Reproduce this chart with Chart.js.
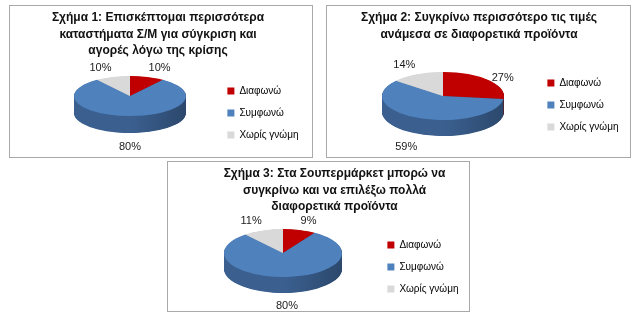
<!DOCTYPE html>
<html>
<head>
<meta charset="utf-8">
<script src="https://cdn.jsdelivr.net/npm/chart.js@4.4.0/dist/chart.umd.min.js"></script>
<style>
  body { margin: 0; background: #fff; width: 641px; height: 315px; position: relative; overflow: hidden; }
  .box { position: absolute; border: 1px solid #a9a9a9; box-sizing: border-box; background: #fff; overflow: hidden; }
  .box canvas { display: block; }
</style>
</head>
<body>
<div class="box" style="left:9px;top:5px;width:304px;height:153px"><canvas id="fig1" width="302" height="151"></canvas></div>
<div class="box" style="left:326px;top:5px;width:305px;height:153px"><canvas id="fig2" width="303" height="151"></canvas></div>
<div class="box" style="left:167px;top:161px;width:303px;height:151px"><canvas id="fig3" width="301" height="149"></canvas></div>
<script>
// data
const categories = ['Διαφωνώ', 'Συμφωνώ', 'Χωρίς γνώμη']
const values_fig1 = [10, 80, 10]
const values_fig2 = [27, 59, 14]
const values_fig3 = [9, 80, 11]

const title_fig1 = ['Σχήμα 1: Επισκέπτομαι περισσότερα', 'καταστήματα Σ/Μ για σύγκριση και', 'αγορές λόγω της κρίσης']
const title_fig2 = ['Σχήμα 2: Συγκρίνω περισσότερο τις τιμές', 'ανάμεσα σε διαφορετικά προϊόντα']
const title_fig3 = ['Σχήμα 3: Στα Σουπερμάρκετ μπορώ να', 'συγκρίνω και να επιλέξω πολλά', 'διαφορετικά προϊόντα']

const top_colors = ['#c00000', '#4f81bd', '#d9d9d9']
const side_colors = ['#8e0a0a', '#3b6090', '#a9a9a9']
const font_family = "'Liberation Sans', Arial, sans-serif"


// fake 3d pie: squash the library's arcs into an ellipse and stack a darker wall under it
const pie3d = {
  id: 'pie3d',
  beforeDatasetsDraw(chart, args, opts) {
    const ctx = chart.ctx
    const arcs = chart.getDatasetMeta(0).data
    const ox = arcs[0].x, oy = arcs[0].y
    const r = arcs[0].outerRadius
    const k = opts.ry / r
    ctx.save()
    ctx.translate(opts.cx, opts.cy)
    ctx.scale(1, k)
    ctx.translate(-ox, -oy)
    for (let d = opts.depth; d > 0; d -= 0.5) {
      arcs.forEach((arc, i) => {
        let grad = ctx.createLinearGradient(ox - r, 0, ox + r, 0)
        grad.addColorStop(0, side_colors[i])
        grad.addColorStop(0.5, side_colors[i])
        grad.addColorStop(1, shade(side_colors[i], 0.75))
        ctx.fillStyle = grad
        ctx.beginPath()
        ctx.moveTo(ox, oy + d / k)
        ctx.arc(ox, oy + d / k, arc.outerRadius, arc.startAngle, arc.endAngle)
        ctx.closePath()
        ctx.fill()
      })
    }
  },
  afterDatasetsDraw(chart, args, opts) {
    const ctx = chart.ctx
    ctx.restore()
    // percent labels just outside the ellipse
    const arcs = chart.getDatasetMeta(0).data
    const values = chart.data.datasets[0].data
    ctx.save()
    ctx.font = '11px ' + font_family
    ctx.fillStyle = '#1a1a1a'
    arcs.forEach((arc, i) => {
      const a = (arc.startAngle + arc.endAngle) / 2
      const c = Math.cos(a), s = Math.sin(a)
      const x = opts.cx + (arc.outerRadius + 4) * c
      const y = opts.cy + (opts.ry + (s > 0 ? 8 : 4)) * s + (s > 0 ? opts.depth : 0)
      ctx.textAlign = c > 0.1 ? 'left' : (c < -0.1 ? 'right' : 'center')
      ctx.textBaseline = s < -0.7 ? 'bottom' : (s > 0.7 ? 'top' : 'middle')
      ctx.fillText(values[i] + '%', x, y)
    })
    ctx.restore()
  }
}

function shade(hex, f) {
  let n = parseInt(hex.slice(1), 16)
  let r = Math.round((n >> 16) * f), g = Math.round(((n >> 8) & 255) * f), b = Math.round((n & 255) * f)
  return `rgb(${r},${g},${b})`
}

function make_chart(id, values, title, pie_opts, padding) {
  return new Chart(document.getElementById(id), {
    type: 'pie',
    data: {
      labels: categories,
      datasets: [{
        data: values,
        backgroundColor: top_colors,
        borderWidth: 0,
        radius: pie_opts.rx,
        clip: false
      }]
    },
    options: {
      responsive: false,
      animation: false,
      events: [],
      layout: { padding: padding },
      plugins: {
        title: {
          display: true,
          text: title,
          color: '#111',
          font: { family: font_family, size: 12, weight: 'bold', lineHeight: 1.4 },
          padding: { top: 0, bottom: 4 }
        },
        legend: {
          position: 'right',
          align: 'end',
          labels: {
            boxWidth: 7,
            boxHeight: 7,
            padding: 12,
            color: '#000',
            font: { family: font_family, size: 10 }
          }
        },
        tooltip: { enabled: false },
        pie3d: pie_opts
      }
    },
    plugins: [pie3d]
  })
}

let chart_fig1 = make_chart('fig1', values_fig1, title_fig1,
  { cx: 120, cy: 90, rx: 56, ry: 20, depth: 17 }, { left: -2.5, right: 3.5, top: 3, bottom: 5 })
let chart_fig2 = make_chart('fig2', values_fig2, title_fig2,
  { cx: 116, cy: 90, rx: 61, ry: 24, depth: 16 }, { left: 2.5, right: 1.5, top: 3, bottom: 13 })
let chart_fig3 = make_chart('fig3', values_fig3, title_fig3,
  { cx: 115, cy: 91, rx: 59, ry: 24, depth: 16 }, { left: 32.5, right: 0.5, top: 3, bottom: 5 })
</script>
</body>
</html>
